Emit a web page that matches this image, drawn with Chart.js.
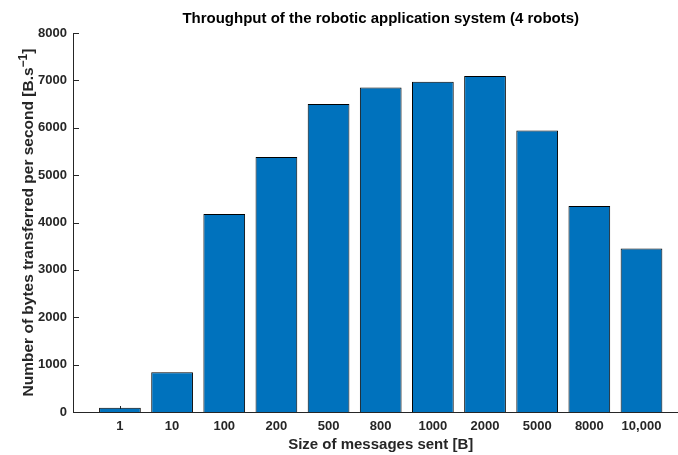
<!DOCTYPE html>
<html>
<head>
<meta charset="utf-8">
<script src="https://cdn.jsdelivr.net/npm/chart.js@4"></script>
<style>
  html, body { margin: 0; padding: 0; background: #fff; }
  #wrap { width: 678px; height: 455px; }
</style>
</head>
<body>
<div id="wrap"><canvas id="c" width="678" height="455"></canvas></div>
<script>
const messageSizes = ['1', '10', '100', '200', '500', '800', '1000', '2000', '5000', '8000', '10,000'];
const bytesPerSecond = [90, 840, 4180, 5380, 6500, 6850, 6970, 7090, 5940, 4350, 3450];
const yTicks = [0, 1000, 2000, 3000, 4000, 5000, 6000, 7000, 8000];

const chartTitle = 'Throughput of the robotic application system (4 robots)';
const xTitle = 'Size of messages sent [B]';
const yTitleMain = 'Number of bytes transferred per second [B.s';
const yTitleSup = '\u22121';
const yTitleEnd = ']';

const AXIS = '#262626';
const FONT = '"Liberation Sans", Arial, Helvetica, sans-serif';

const decorations = {
  id: 'decorations',
  beforeDatasetsDraw(chart) {
    const ctx = chart.ctx;
    const x = chart.scales.x, y = chart.scales.y;
    const len = 6;
    ctx.save();
    ctx.strokeStyle = AXIS;
    ctx.lineWidth = 1;
    ctx.beginPath();
    y.ticks.forEach(t => {
      const py = Math.round(y.getPixelForValue(t.value)) + 0.5;
      ctx.moveTo(x.left, py);
      ctx.lineTo(x.left + len, py);
    });
    x.ticks.forEach(t => {
      const px = Math.round(x.getPixelForValue(t.value)) + 0.5;
      ctx.moveTo(px, y.bottom);
      ctx.lineTo(px, y.bottom - len);
    });
    ctx.stroke();
    ctx.restore();
  },
  afterDraw(chart) {
    const ctx = chart.ctx;
    const ca = chart.chartArea;
    const x = chart.scales.x;
    // centre of the full (uncropped) axes box: midpoint of the 11 categories
    const cx = x.getPixelForValue((1 + messageSizes.length) / 2);
    ctx.save();
    // chart title
    ctx.fillStyle = '#000';
    ctx.font = 'bold 15px ' + FONT;
    ctx.textAlign = 'center';
    ctx.textBaseline = 'middle';
    ctx.fillText(chartTitle, cx, 19);
    // x axis title
    ctx.fillStyle = AXIS;
    ctx.font = 'bold 15px ' + FONT;
    ctx.fillText(xTitle, cx, 445);
    // y axis title with superscript
    ctx.translate(32.5, (ca.top + ca.bottom) / 2);
    ctx.rotate(-Math.PI / 2);
    ctx.textAlign = 'left';
    ctx.textBaseline = 'alphabetic';
    const mainFont = 'bold 15.5px ' + FONT;
    const supFont = 'bold 12px ' + FONT;
    ctx.font = mainFont;
    const w1 = ctx.measureText(yTitleMain).width;
    const w3 = ctx.measureText(yTitleEnd).width;
    ctx.font = supFont;
    const w2 = ctx.measureText(yTitleSup).width;
    let sx = -(w1 + w2 + w3) / 2;
    ctx.font = mainFont;
    ctx.fillText(yTitleMain, sx, 0);
    sx += w1;
    ctx.font = supFont;
    ctx.fillText(yTitleSup, sx, -6);
    sx += w2;
    ctx.font = mainFont;
    ctx.fillText(yTitleEnd, sx, 0);
    ctx.restore();
  }
};

new Chart(document.getElementById('c'), {
  type: 'bar',
  data: {
    datasets: [{
      data: bytesPerSecond.map((v, i) => ({ x: i + 1, y: v })),
      backgroundColor: '#0072BD',
      borderColor: '#000000',
      borderWidth: 1,
      barPercentage: 0.8,
      categoryPercentage: 1.0
    }]
  },
  options: {
    responsive: false,
    animation: false,
    layout: { padding: { left: 0, right: 0, top: 33, bottom: 0 } },
    plugins: {
      legend: { display: false },
      tooltip: { enabled: false },
      title: { display: false }
    },
    scales: {
      x: {
        type: 'linear',
        offset: false,
        min: 0.1,
        max: 11.7,
        afterBuildTicks: s => { s.ticks = messageSizes.map((_, i) => ({ value: i + 1 })); },
        afterFit: s => { s.height = 43; },
        ticks: {
          autoSkip: false,
          maxRotation: 0,
          padding: 7,
          color: AXIS,
          font: { family: FONT, size: 13, weight: 'bold' },
          callback: v => messageSizes[v - 1]
        },
        grid: { display: false, drawTicks: false, offset: false },
        border: { display: true, color: AXIS, width: 1 },
        title: { display: false }
      },
      y: {
        min: 0,
        max: 8000,
        afterBuildTicks: s => { s.ticks = yTicks.map(v => ({ value: v })); },
        afterFit: s => { s.width = 73; },
        ticks: {
          padding: 6,
          color: AXIS,
          font: { family: FONT, size: 13, weight: 'bold' },
          callback: v => String(v)
        },
        grid: { display: false, drawTicks: false },
        border: { display: true, color: AXIS, width: 1 },
        title: { display: false }
      }
    }
  },
  plugins: [decorations]
});
</script>
</body>
</html>
